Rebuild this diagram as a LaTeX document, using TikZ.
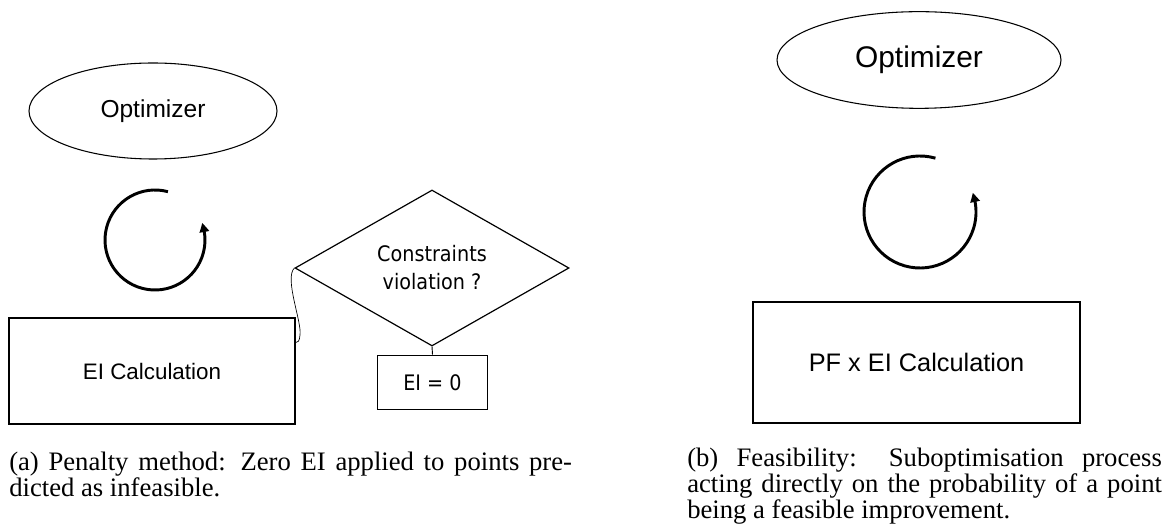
\documentclass[tikz,border=0pt]{standalone}
\usepackage{fontspec}
\setmainfont{Liberation Serif}
\newfontfamily\arialfont{Liberation Sans}
\newfontfamily\tahomafont[FakeStretch=0.9]{DejaVu Sans}
\newfontfamily\capfont{Liberation Serif}
\newcommand\capsize{\capfont\fontsize{20pt}{19.6pt}\selectfont}
\usetikzlibrary{shapes.geometric,arrows.meta,bending}

\begin{document}
\begin{tikzpicture}[x=0.75pt,y=-0.75pt,
  oval/.style={draw,ellipse,line width=0.8pt,inner sep=0pt},
  box/.style={draw,rectangle,line width=1.1pt,inner sep=0pt},
  decision/.style={draw,diamond,line width=0.9pt,inner sep=0pt},
  loop/.style={line width=2.2pt,-{Triangle[length=7pt,width=7pt,bend]}},
  captext/.style={inner sep=0pt,anchor=base west,align=justify,font=\capsize}]
\useasboundingbox (0,0) rectangle (1169,530);

% ---- (a) penalty method ----
\node[oval,minimum width=186pt,minimum height=72pt,
  font=\arialfont\fontsize{18.4}{22}\selectfont] (optA) at (153,111) {Optimizer};
\draw[loop] (155,240) ++(-75:50) arc[start angle=-75,end angle=-380,radius=50];
\node[box,minimum width=214.5pt,minimum height=79.5pt,
  font=\arialfont\fontsize{16.8}{20}\selectfont] (eicalc) at (152,371) {EI Calculation};
\node[decision,minimum width=205.5pt,minimum height=117pt,align=center,
  font=\tahomafont\fontsize{16}{21}\selectfont] (check) at (432,268)
  {Constraints\\violation ?};
\node[box,line width=0.9pt,minimum width=83pt,minimum height=41pt,
  font=\tahomafont\fontsize{16}{20}\selectfont] (zero) at (432.5,382.5) {EI = 0};
\coordinate (join) at (295,343);
\draw[line width=0.5pt] (check.west) .. controls (284,278) and (302,322) .. (300,335)
  .. controls (299.5,341) and (298,343) .. (join);
\draw[line width=0.7pt] (check.south) -- (zero.north);
\node[captext,text width=422pt] (capA) at (9,470)
  {(a) Penalty method: Zero EI applied to points pre-\linebreak
   dicted as infeasible.};

% ---- (b) feasibility ----
\node[oval,minimum width=213pt,minimum height=72.5pt,
  font=\arialfont\fontsize{22.4}{26}\selectfont] (optB) at (919,60) {Optimizer};
\draw[loop] (920,212) ++(-74:56) arc[start angle=-74,end angle=-380,radius=56];
\node[box,minimum width=245pt,minimum height=91pt,
  font=\arialfont\fontsize{19}{23}\selectfont] (pfcalc) at (916.5,362.5) {PF x EI Calculation};
\node[captext,text width=356pt] (capB) at (687,466)
  {(b) Feasibility: Suboptimisation process\linebreak
   acting directly on the probability of a point\linebreak
   being a feasible improvement.};
\end{tikzpicture}
\end{document}
